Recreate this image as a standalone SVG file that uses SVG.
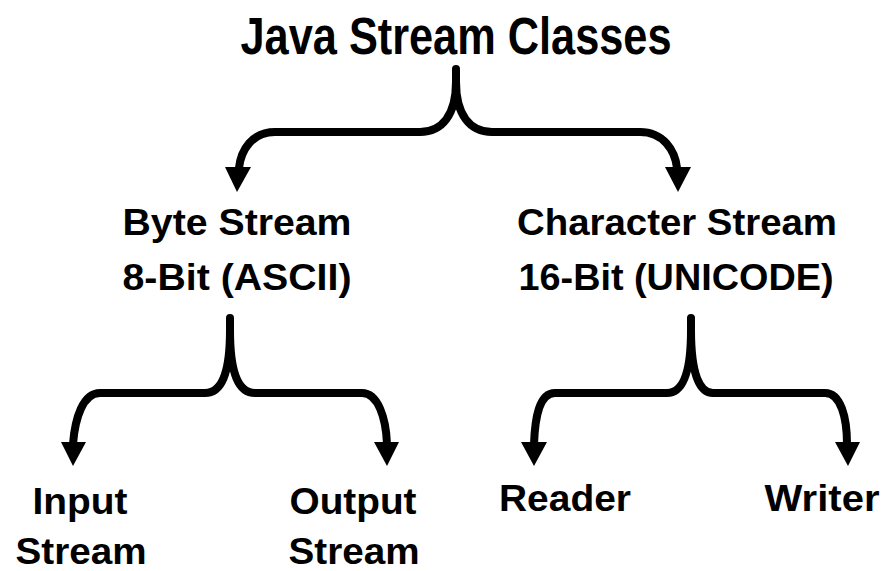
<svg xmlns="http://www.w3.org/2000/svg" width="886" height="571" viewBox="0 0 886 571">
<style>
.t{font-family:"Liberation Sans",Arial,sans-serif;font-weight:bold;fill:#000;text-anchor:middle}
.title{font-size:51px}
.lbl{font-size:36px}
.c{fill:none;stroke:#000;stroke-width:8;stroke-linecap:round;stroke-linejoin:round}
.ah{fill:#000}
</style>
<rect width="886" height="571" fill="#fff"/>
<g id="connectors">
<path class="c" d="M456,69 L456,82 C456,115 442,132 420,132 L275,132 C252,132 241,150 239,168"/>
<path class="c" d="M456,82 C456,115 470,132 492,132 L640,132 C663,132 675,150 677,168"/>
<polygon class="ah" points="225,167 251,167 237,192"/>
<polygon class="ah" points="665,167 691,167 678,192"/>
<path class="c" d="M230,318 L230,330 C230,375 221,393 205,393 L100,393 C83,393 75,418 73,444"/>
<path class="c" d="M230,330 C230,375 239,393 255,393 L362,393 C378,393 386,418 387,444"/>
<polygon class="ah" points="61,442 86,442 73,466"/>
<polygon class="ah" points="374,442 399,442 387,466"/>
<path class="c" d="M691,318 L691,330 C691,375 682,393 667,393 L555,393 C539,393 535,418 534,444"/>
<path class="c" d="M691,330 C691,375 700,393 713,393 L825,393 C841,393 847,418 847,444"/>
<polygon class="ah" points="521,442 547,442 534,466"/>
<polygon class="ah" points="835,442 860,442 848,466"/>
</g>
<g id="title"><text class="t title" x="456" y="54" textLength="431" lengthAdjust="spacingAndGlyphs">Java Stream Classes</text></g>
<g id="byte">
<text class="t lbl" x="237" y="235" textLength="229" lengthAdjust="spacingAndGlyphs">Byte Stream</text>
<text class="t lbl" x="237" y="290" textLength="229" lengthAdjust="spacingAndGlyphs">8-Bit (ASCII)</text>
</g>
<g id="character">
<text class="t lbl" x="677" y="235" textLength="320" lengthAdjust="spacingAndGlyphs">Character Stream</text>
<text class="t lbl" x="676" y="290" textLength="315" lengthAdjust="spacingAndGlyphs">16-Bit (UNICODE)</text>
</g>
<g id="input">
<text class="t lbl" x="80" y="514" textLength="95" lengthAdjust="spacingAndGlyphs">Input</text>
<text class="t lbl" x="81" y="564" textLength="131" lengthAdjust="spacingAndGlyphs">Stream</text>
</g>
<g id="output">
<text class="t lbl" x="353" y="514" textLength="127" lengthAdjust="spacingAndGlyphs">Output</text>
<text class="t lbl" x="354" y="564" textLength="131" lengthAdjust="spacingAndGlyphs">Stream</text>
</g>
<g id="reader"><text class="t lbl" x="565" y="511" textLength="132" lengthAdjust="spacingAndGlyphs">Reader</text></g>
<g id="writer"><text class="t lbl" x="822" y="511" textLength="115" lengthAdjust="spacingAndGlyphs">Writer</text></g>
</svg>
